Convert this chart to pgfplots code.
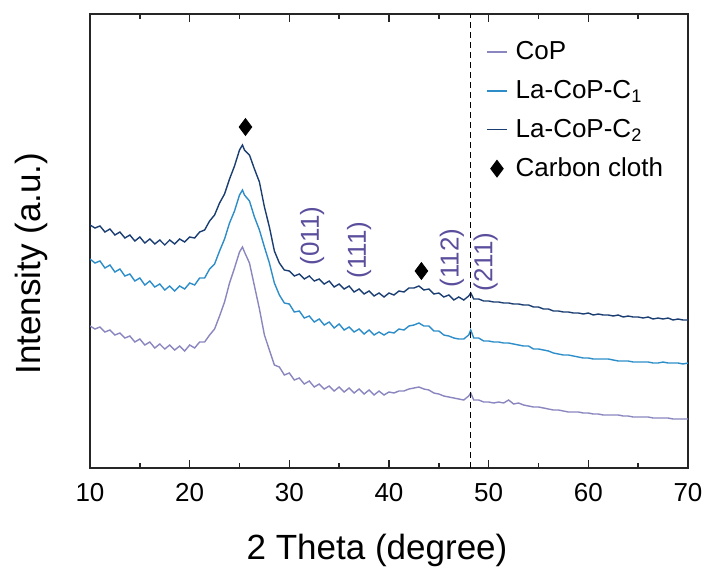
\documentclass[border=0pt]{standalone}
\usepackage{pgfplots}
\pgfplotsset{compat=1.18}
\usepackage{pgfplotstable}
\usepackage{fontspec}
\setmainfont{Liberation Sans}

\definecolor{cop}{HTML}{8A86BF}
\definecolor{lacopa}{HTML}{2C8DC9}
\definecolor{lacopb}{HTML}{1B3E72}
\definecolor{hkl}{HTML}{5B4E9C}

\pgfplotsset{
    shortline/.style={legend image code/.code={\draw[##1] (0.3cm-5pt,0cm) -- (0.3cm+5pt,0cm);}},
    onemark/.style={legend image code/.code={\draw[##1] plot coordinates {(0.3cm,0cm)};}},
}

% x, CoP, La-CoP-C1, La-CoP-C2 (intensity, a.u., stacked)
\pgfplotstableread{
x    cop  ca   cb
10   142  209  243
10.5 139  205  240
11   141  207  242
11.5 136  200  236
12   138  203  239
12.5 133  196  233
13   135  199  236
13.5 130  192  230
14   132  194  233
14.5 126  187  227
15   129  190  231
15.5 123  183  225
16   126  187  229
16.5 120  181  224
17   124  184  228
17.5 119  178  223
18   123  182  228
18.5 118  177  224
19   122  182  229
19.5 117  179  226
20   123  185  231
20.5 120  183  230
21   126  190  236
21.5 126  190  238
22   133  199  247
22.5 139  204  253
23   152  217  265
23.5 166  229  274
24   185  245  289
24.5 200  257  302
25   216  273  318
25.3 221  278  323
25.5 216  273  318
26   205  267  313
26.5 182  251  299
27   159  238  286
27.5 133  221  261
28   118  205  241
28.5 103  185  217
29   101  173  205
29.5 93   165  198
30   95   164  197
30.5 88   156  192
31   90   157  194
31.5 84   150  189
32   87   152  192
32.5 81   146  187
33   84   149  189
33.5 79   143  184
34   82   146  187
34.5 77   140  181
35   81   144  184
35.5 76   138  179
36   80   141  182
36.5 75   136  176
37   79   139  179
37.5 74   134  174
38   78   138  177
38.5 73   133  172
39   77   136  175
39.5 73   133  171
40   76   136  175
40.5 75   135  173
41   77   139  177
41.5 77   138  176
42   79   142  180
42.5 80   143  180
43   81   145  182
43.5 79   142  178
44   78   142  179
44.5 75   137  174
45   74   137  175
45.5 72   133  171
46   71   132  173
46.5 70   130  168
47   69   129  171
47.5 68   129  168
48   72   133  172
48.2 75   138  175
48.5 68   130  169
49   68   130  169
49.5 66   127  167
50   66   127  167
50.5 65   126  166
51   66   126  166
51.5 65   125  165
52   68   125  165
52.5 64   124  164
53   65   123  164
53.5 63   122  163
54   62   122  163
54.5 61   119  161
55   61   119  161
55.5 60   118  159
56   59   117  159
56.5 58   115  157
57   58   114  157
57.5 57   113  156
58   56   113  156
58.5 56   112  155
59   56   111  155
59.5 55   110  154
60   55   110  155
60.5 54   109  153
61   54   109  154
61.5 53   109  153
62   53   109  153
62.5 53   108  152
63   53   107  153
63.5 52   107  151
64   52   107  152
64.5 51   106  151
65   51   106  151
65.5 51   106  150
66   51   106  151
66.5 50   105  149
67   50   105  150
67.5 50   106  149
68   50   105  150
68.5 49   105  148
69   49   105  149
69.5 49   104  148
70   49   105  148
}\xrd

\begin{document}
\begin{tikzpicture}
\begin{axis}[
    scale only axis,
    width=299pt, height=227pt,
    xmin=10, xmax=70, ymin=0, ymax=454,
    xtick distance=10,
    minor x tick num=1,
    ytick=\empty,
    tick align=inside,
    major tick length=4pt,
    minor tick length=2.5pt,
    axis line style={black!85, line width=0.8pt},
    every tick/.style={black!85, line width=0.8pt},
    /pgf/number format/assume math mode=true,
    xticklabel style={font=\fontsize{13}{15}\selectfont, yshift=-4pt},
    xlabel={2 Theta (degree)},
    ylabel={Intensity (a.u.)},
    xlabel style={font=\fontsize{17.5}{20}\selectfont,
        at={(axis description cs:0.48,0)}, anchor=center, yshift=-41pt},
    ylabel style={font=\fontsize{17.5}{20}\selectfont,
        at={(axis description cs:-0.0987,0.45)}, anchor=center},
    legend style={draw=none, fill=none,
        at={(axis description cs:0.652,0.958)}, anchor=north west,
        font=\fontsize{13}{15}\selectfont, row sep=4.8pt,
        nodes={inner xsep=4pt}},
    legend cell align=left,
]
\addplot[cop, line width=0.7pt, shortline] table[x=x, y=cop] {\xrd};
\addlegendentry{CoP}
\addplot[lacopa, line width=0.7pt, shortline] table[x=x, y=ca] {\xrd};
\addlegendentry{La-CoP-C\textsubscript{1}}
\addplot[lacopb, line width=0.7pt, shortline] table[x=x, y=cb] {\xrd};
\addlegendentry{La-CoP-C\textsubscript{2}}
\addplot[only marks, mark=diamond*, mark size=4.2pt, black, onemark]
    coordinates {(25.6,341) (43.25,197)};
\addlegendentry{Carbon cloth}

% reference line
\addplot[black, densely dashed, line width=0.5pt, forget plot]
    coordinates {(48.2,0) (48.2,454)};

\node[hkl, rotate=90, font=\fontsize{13}{15}\selectfont] at (axis cs:32.3,232) {(011)};
\node[hkl, rotate=90, font=\fontsize{13}{15}\selectfont] at (axis cs:37.0,218) {(111)};
\node[hkl, rotate=90, font=\fontsize{13}{15}\selectfont] at (axis cs:46.3,210) {(112)};
\node[hkl, rotate=90, font=\fontsize{13}{15}\selectfont] at (axis cs:49.7,206) {(211)};

\coordinate (bl) at (rel axis cs:0,0);
\coordinate (tr) at (rel axis cs:1,1);
\end{axis}
\path ([xshift=-45pt,yshift=-51.5pt]bl) rectangle ([xshift=11pt,yshift=7pt]tr);
\end{tikzpicture}
\end{document}
